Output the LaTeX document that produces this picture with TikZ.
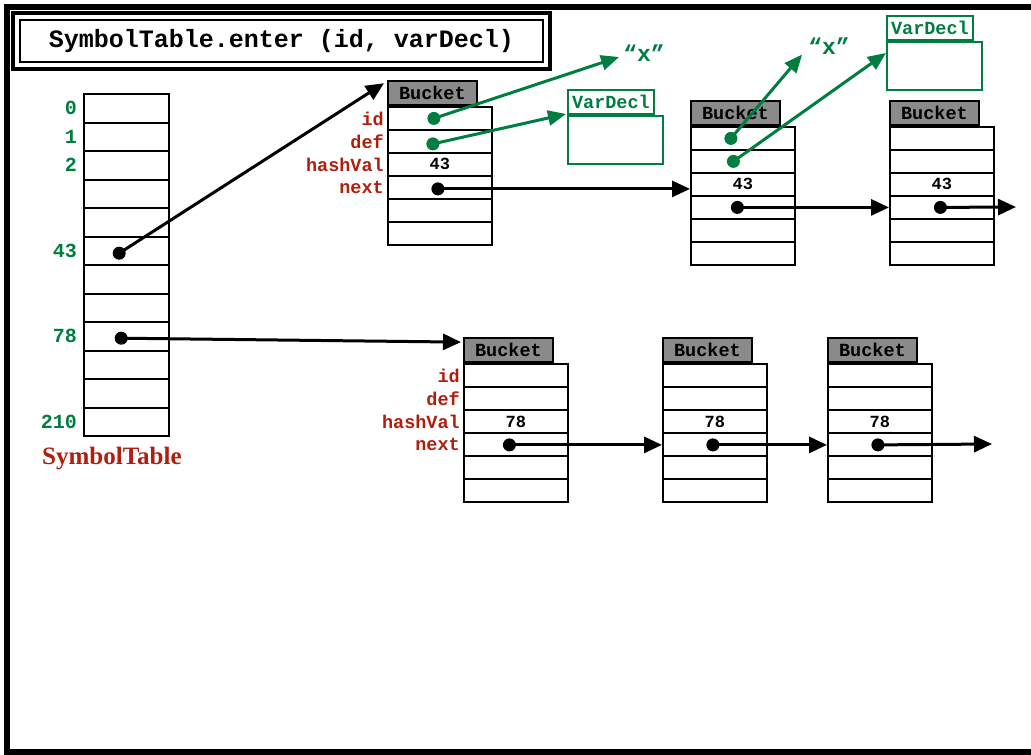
\documentclass[tikz,border=0pt]{standalone}
\usepackage{fontspec}
\setmonofont{Liberation Mono}
\newfontfamily\timesbold{Liberation Serif}
\usetikzlibrary{arrows.meta,calc}
\definecolor{declgreen}{RGB}{0,125,65}
\definecolor{fieldred}{RGB}{175,30,15}
\definecolor{hdrgray}{RGB}{138,138,138}

% one bucket record: name, left x, top y of the body, hash value
\newcommand\bucketat[4]{%
  \foreach \i in {1,2,4,5,6} {\node[cell] (#1r\i) at (#2, {#3+(\i-1)*23}) {};}
  \node[cell] (#1r3) at (#2, {#3+46}) {#4};
  \node[hdr] (#1h) at (#1r1.north west) {Bucket};
}
% field names printed to the left of a bucket
\newcommand\fieldnames[1]{%
  \node[fld] at ([xshift=-3pt]#1r1.west) {id};
  \node[fld] at ([xshift=-3pt]#1r2.west) {def};
  \node[fld] at ([xshift=-3pt]#1r3.west) {hashVal};
  \node[fld] at ([xshift=-3pt]#1r4.west) {next};
}

\begin{document}
\begin{tikzpicture}[x=1pt,y=-1pt,
  cell/.style={draw, line width=1.8pt, minimum width=104pt, minimum height=23pt,
    inner sep=0pt, anchor=north west, font=\ttfamily\bfseries\fontsize{17}{17}\selectfont},
  hdr/.style={draw, fill=hdrgray, line width=1.8pt, minimum width=89pt, minimum height=24pt,
    inner sep=0pt, anchor=south west, font=\ttfamily\bfseries\fontsize{18.5}{18}\selectfont},
  tcell/.style={minimum width=85pt, minimum height=28pt, inner sep=0pt, anchor=north west},
  grid/.style={line width=2pt},
  idx/.style={text=declgreen, anchor=east, inner sep=0pt,
    font=\ttfamily\bfseries\fontsize{20}{20}\selectfont},
  fld/.style={text=fieldred, anchor=east, inner sep=0pt,
    font=\ttfamily\bfseries\fontsize{18.5}{18}\selectfont},
  dot/.style={circle, fill=black, inner sep=0pt, minimum size=13pt},
  gdot/.style={circle, fill=declgreen, inner sep=0pt, minimum size=13pt},
  arr/.style={line width=3pt, -{Triangle[length=18pt,width=16pt]}},
  garr/.style={declgreen, line width=3pt, -{Triangle[length=18pt,width=15pt]}},
  tab/.style={draw=declgreen, line width=1.8pt, text=declgreen, inner sep=0pt,
    minimum width=86pt, minimum height=24pt, anchor=south west,
    font=\ttfamily\bfseries\fontsize{18.5}{18}\selectfont},
  declbody/.style={draw=declgreen, line width=1.8pt, inner sep=0pt,
    minimum width=95pt, minimum height=48pt, anchor=north west},
  quoted/.style={text=declgreen, inner sep=0pt,
    font=\ttfamily\bfseries\fontsize{23}{23}\selectfont}
]
\useasboundingbox (0,0) rectangle (1031,755);

% outer frame
\draw[line width=6pt] (1040,7) -- (7,7) -- (7,752) -- (1040,752);

% title
\node[draw, line width=1.5pt, minimum width=523pt, minimum height=42pt, inner sep=0pt,
      font=\ttfamily\bfseries\fontsize{25}{25}\selectfont] (title) at (281.5,41)
      {SymbolTable.enter (id, varDecl)};
\draw[line width=4pt] ([shift={(-6pt,6pt)}]title.north west)
      rectangle ([shift={(6pt,-6pt)}]title.south east);

% the hash table: twelve slots on whole-pixel rules
\foreach \i in {0,...,11} {\node[tcell] (t\i) at (84, {round(94+\i*28.5)}) {};}
\draw[grid] (84,94) rectangle (169,436);
\foreach \i in {1,...,11} {\draw[grid] (84, {round(94+\i*28.5)}) -- (169, {round(94+\i*28.5)});}
\node[idx] at ([xshift=-7pt]t0.west) {0};
\node[idx] at ([xshift=-7pt]t1.west) {1};
\node[idx] at ([xshift=-7pt]t2.west) {2};
\node[idx] at ([xshift=-7pt]t5.west) {43};
\node[idx] at ([xshift=-7pt]t8.west) {78};
\node[idx] at ([xshift=-7pt]t11.west) {210};
\node[text=fieldred, anchor=base west, inner sep=0pt,
      font=\timesbold\bfseries\fontsize{25}{25}\selectfont] (tname) at (42,464) {SymbolTable};

% buckets of chain 43
\bucketat{a}{387}{106}{43}
\bucketat{b}{690}{126}{43}
\bucketat{c}{889}{126}{43}
\fieldnames{a}

% buckets of chain 78
\bucketat{d}{463}{363}{78}
\bucketat{e}{662}{363}{78}
\bucketat{f}{827}{363}{78}
\fieldnames{d}

% declarations and names
\node[declbody] (vd1) at (567,115) {};
\node[tab] (vd1t) at (vd1.north west) {VarDecl};
\node[declbody] (vd2) at (886,41) {};
\node[tab] (vd2t) at (vd2.north west) {VarDecl};
\node[quoted] (qx1) at (644,53) {“x”};
\node[quoted] (qx2) at (829,46) {“x”};

% pointers from the table
\node[dot] (p43) at ($(t5.center)+(-7.5,2)$) {};
\node[dot] (p78) at ($(t8.center)+(-5.5,2)$) {};
\draw[arr] (p43.center) -- ([shift={(-3pt,-3pt)}]ah.north west);
\draw[arr] (p78.center) -- ([shift={(-2pt,8pt)}]dh.west);

% chain 43
\node[gdot] (aid) at ($(ar1.center)+(-6,0)$) {};
\node[gdot] (adef) at ($(ar2.center)+(-7,2.5)$) {};
\node[dot] (anext) at ($(ar4.center)+(-2,1.5)$) {};
\node[gdot] (bid) at ($(br1.center)+(-12,0)$) {};
\node[gdot] (bdef) at ($(br2.center)+(-9.5,0)$) {};
\node[dot] (bnext) at ($(br4.center)+(-5.5,0)$) {};
\node[dot] (cnext) at ($(cr4.center)+(-1.5,0)$) {};
\coordinate (cend) at (1016,207);
\draw[garr] (aid.center) -- ([shift={(-4pt,-4pt)}]qx1.west);
\draw[garr] (adef.center) -- ([shift={(-1pt,1pt)}]vd1.north west);
\draw[garr] (bid.center) -- ([xshift=-6pt]qx2.south west);
\draw[garr] (bdef.center) -- ([yshift=-12pt]vd2.north west);
\draw[arr] (anext.center) -- (anext.center -| br1.west);
\draw[arr] (bnext.center) -- (bnext.center -| cr1.west);
\draw[arr] (cnext.center) -- (cend);

% chain 78
\node[dot] (dnext) at ($(dr4.center)+(-6.5,0.5)$) {};
\node[dot] (enext) at ($(er4.center)+(-2,0.5)$) {};
\node[dot] (fnext) at ($(fr4.center)+(-2,0.5)$) {};
\coordinate (fend) at (992,444);
\draw[arr] (dnext.center) -- (dnext.center -| er1.west);
\draw[arr] (enext.center) -- (enext.center -| fr1.west);
\draw[arr] (fnext.center) -- (fend);
\end{tikzpicture}
\end{document}
